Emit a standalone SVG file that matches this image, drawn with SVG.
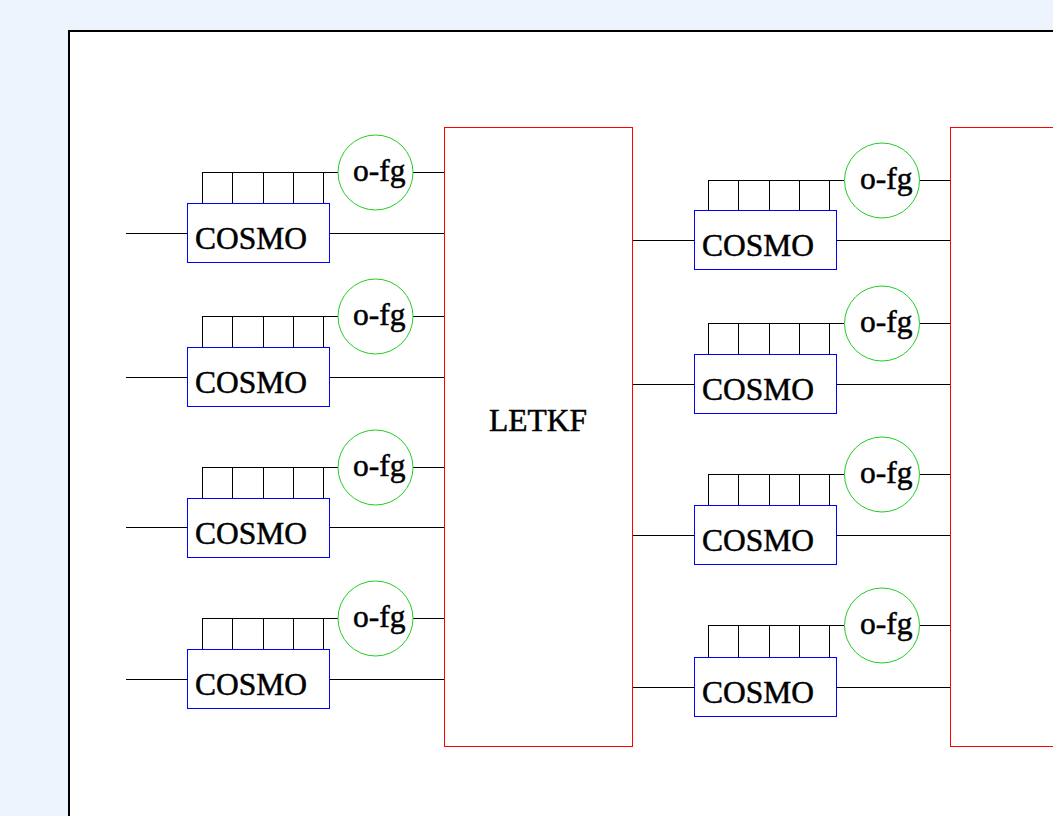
<svg xmlns="http://www.w3.org/2000/svg" width="1053" height="816" viewBox="0 0 1053 816">
<style>
.t{font-family:"Liberation Serif","Times New Roman",serif;font-size:31.5px;fill:#000;stroke:#000;stroke-width:0.5}
.box{fill:#fff;stroke:#0000ff;stroke-width:1}
.circ{fill:#fff;stroke:#22cc22;stroke-width:1}
.big{fill:#fff;stroke:#ff0000;stroke-width:1}
.ln{stroke:#000;stroke-width:1;fill:none}
</style>
<rect x="0" y="0" width="1053" height="816" fill="#edf4fe"/>
<rect x="69" y="31" width="1100" height="900" fill="#fff" stroke="#000" stroke-width="2"/>
<g id="connectors">
  <path class="ln" d="M126 233.5H187M330 233.5H444M202 172.5H338M413 172.5H444M202.5 172V203M232.5 172V203M263.5 172V203M293.5 172V203M323.5 172V203"/>
  <path class="ln" d="M126 377.5H187M330 377.5H444M202 316.5H338M413 316.5H444M202.5 316V347M232.5 316V347M263.5 316V347M293.5 316V347M323.5 316V347"/>
  <path class="ln" d="M126 527.5H187M330 527.5H444M202 467.5H338M413 467.5H444M202.5 467V498M232.5 467V498M263.5 467V498M293.5 467V498M323.5 467V498"/>
  <path class="ln" d="M126 679.5H187M330 679.5H444M202 618.5H338M413 618.5H444M202.5 618V649M232.5 618V649M263.5 618V649M293.5 618V649M323.5 618V649"/>
  <path class="ln" d="M633 240.5H694M836 240.5H950M708 180.5H844M920 180.5H950M708.5 180V210M738.5 180V210M769.5 180V210M799.5 180V210M829.5 180V210"/>
  <path class="ln" d="M633 384.5H694M836 384.5H950M708 323.5H844M920 323.5H950M708.5 323V354M738.5 323V354M769.5 323V354M799.5 323V354M829.5 323V354"/>
  <path class="ln" d="M633 535.5H694M836 535.5H950M708 474.5H844M920 474.5H950M708.5 474V505M738.5 474V505M769.5 474V505M799.5 474V505M829.5 474V505"/>
  <path class="ln" d="M633 687.5H694M836 687.5H950M708 625.5H844M920 625.5H950M708.5 625V657M738.5 625V657M769.5 625V657M799.5 625V657M829.5 625V657"/>
</g>
<g id="letkf1"><rect class="big" x="444.5" y="127.5" width="188" height="619"/><text class="t" x="489" y="431">LETKF</text></g>
<g id="letkf2"><rect class="big" x="950.5" y="127.5" width="200" height="619"/></g>
<g id="cosmoL1"><rect class="box" x="187.5" y="203.5" width="142" height="59"/><text class="t" x="195" y="249">COSMO</text></g>
<g id="ofgL1"><circle class="circ" cx="375.5" cy="172.5" r="37.5"/><text class="t" x="353" y="181">o-fg</text></g>
<g id="cosmoL2"><rect class="box" x="187.5" y="347.5" width="142" height="59"/><text class="t" x="195" y="393">COSMO</text></g>
<g id="ofgL2"><circle class="circ" cx="375.5" cy="316.5" r="37.5"/><text class="t" x="353" y="325">o-fg</text></g>
<g id="cosmoL3"><rect class="box" x="187.5" y="498.5" width="142" height="59"/><text class="t" x="195" y="544">COSMO</text></g>
<g id="ofgL3"><circle class="circ" cx="375.5" cy="467.5" r="37.5"/><text class="t" x="353" y="476">o-fg</text></g>
<g id="cosmoL4"><rect class="box" x="187.5" y="649.5" width="142" height="59"/><text class="t" x="195" y="695">COSMO</text></g>
<g id="ofgL4"><circle class="circ" cx="375.5" cy="618.5" r="37.5"/><text class="t" x="353" y="627">o-fg</text></g>
<g id="cosmoR1"><rect class="box" x="694.5" y="210.5" width="142" height="59"/><text class="t" x="702" y="256">COSMO</text></g>
<g id="ofgR1"><circle class="circ" cx="882" cy="180.5" r="37.5"/><text class="t" x="860" y="189">o-fg</text></g>
<g id="cosmoR2"><rect class="box" x="694.5" y="354.5" width="142" height="59"/><text class="t" x="702" y="400">COSMO</text></g>
<g id="ofgR2"><circle class="circ" cx="882" cy="323.5" r="37.5"/><text class="t" x="860" y="332">o-fg</text></g>
<g id="cosmoR3"><rect class="box" x="694.5" y="505.5" width="142" height="59"/><text class="t" x="702" y="551">COSMO</text></g>
<g id="ofgR3"><circle class="circ" cx="882" cy="474.5" r="37.5"/><text class="t" x="860" y="483">o-fg</text></g>
<g id="cosmoR4"><rect class="box" x="694.5" y="657.5" width="142" height="59"/><text class="t" x="702" y="703">COSMO</text></g>
<g id="ofgR4"><circle class="circ" cx="882" cy="625.5" r="37.5"/><text class="t" x="860" y="634">o-fg</text></g>
</svg>
